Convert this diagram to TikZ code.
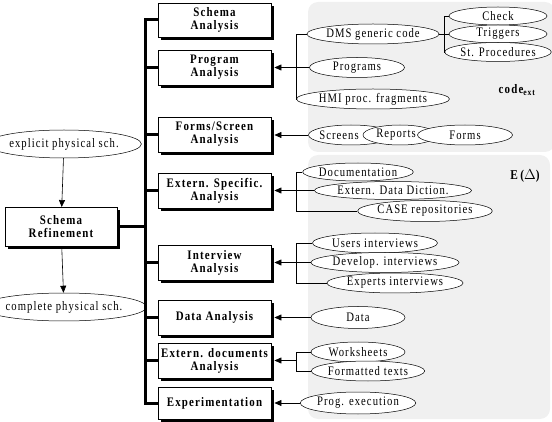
\documentclass[tikz,border=0pt]{standalone}
\usepackage{fontspec}
\setmainfont{Liberation Serif}
\newfontfamily\boxfont{Liberation Serif}[FakeStretch=0.84,LetterSpace=9,BoldFont={* Bold}]
\newfontfamily\ellfont{Liberation Serif}[FakeStretch=0.82,LetterSpace=8]
\usetikzlibrary{shapes.geometric,arrows.meta,shadows}
\definecolor{panel}{RGB}{240,240,240}
\begin{document}
\begin{tikzpicture}[x=1pt,y=-1pt,
  box/.style={draw,line width=0.9pt,fill=white,minimum width=113pt,minimum height=35pt,
    align=center,inner sep=1pt,font=\boxfont\fontsize{13}{13}\selectfont\bfseries,
    drop shadow={shadow xshift=3pt,shadow yshift=-3pt,fill=black,opacity=1}},
  ell/.style={draw,ellipse,fill=white,line width=0.5pt,inner sep=0pt,minimum height=20pt,
    font=\ellfont\fontsize{13}{13}\selectfont},
  lbl/.style={inner sep=0pt,font=\ellfont\fontsize{13}{13}\selectfont},
  bus/.style={line width=3pt},
  thin/.style={line width=0.6pt},
  arr/.style={line width=0.6pt,-{Triangle[length=7pt,width=6pt]}},
]
\useasboundingbox (0,0) rectangle (552,422);
% panels
\fill[panel,rounded corners=10pt] (308,2) rectangle (555,152);
\fill[panel,rounded corners=10pt] (308,155) rectangle (550,419);
\node[font=\boxfont\fontsize{13}{14}\selectfont\bfseries] (codeext) at (517,90) {code\textsubscript{ext}};
\node[font=\boxfont\fontsize{13.5}{14}\selectfont\bfseries] (edelta) at (525,176) {E\,($\Delta$)};

% left part
\node[ell,minimum width=125pt,minimum height=28pt] (expl) at (64,144) {explicit physical sch.};
\node[ell,minimum width=125pt,minimum height=28pt] (compl) at (64,307) {complete physical sch.};
\node[box,minimum width=112pt,minimum height=39pt] (refine) at (61,227) {Schema\\Refinement};
\draw[arr] (expl) -- (refine);
\draw[arr] (refine) -- (compl);

% analysis boxes
\node[box,minimum height=34pt] (sa) at (214.5,20) {Schema\\Analysis};
\node[box] (pa) at (214.5,67.5) {Program\\Analysis};
\node[box] (fa) at (214.5,134.5) {Forms/Screen\\Analysis};
\node[box] (ea) at (214.5,190.5) {Extern. Specific.\\Analysis};
\node[box] (ia) at (214.5,262.5) {Interview\\Analysis};
\node[box] (da) at (214.5,317.5) {Data Analysis};
\node[box] (xa) at (214.5,360.5) {Extern. documents\\Analysis};
\node[box,minimum height=32pt] (ex) at (214.5,403) {Experimentation};

% bus
\coordinate (bustop) at (145,20);
\coordinate (busbot) at (145,403);
\draw[bus] (145,18.5) -- (145,404.5);
\foreach \n in {sa,pa,fa,ea,ia,da,xa,ex} \draw[bus] (\n.west -| bustop) -- (\n.west);
\draw[bus] ([xshift=3pt]refine.east) -- (refine.east -| bustop);

% program analysis group
\node[ell,minimum width=127pt] (dms) at (373,34) {DMS generic code};
\node[ell,minimum width=95pt] (progs) at (357,67.5) {Programs};
\node[ell,minimum width=127pt] (hmi) at (373,99) {HMI proc. fragments};
\node[ell,minimum width=98pt,minimum height=18pt] (check) at (498,16) {Check};
\node[ell,minimum width=98pt,minimum height=18pt] (trig) at (498,34) {Triggers};
\node[ell,minimum width=98pt,minimum height=19pt] (stp) at (498,52) {St. Procedures};
\coordinate (bk1) at (296,0);
\coordinate (bk0) at (444,0);
\draw[thin] (dms.west) -- (dms.west -| bk1) -- (hmi.west -| bk1) -- (hmi.west);
\draw[arr] (progs.west) -- ([xshift=3pt]pa.east);
\draw[thin] (dms.east) -- (trig.west);
\draw[thin] (check.west) -- (check.west -| bk0) -- (stp.west -| bk0) -- (stp.west);

% forms / screens
\node[ell,minimum width=85pt] (scr) at (351,135) {};
\node[lbl] (scrt) at (339,135) {Screens};
\node[ell,minimum width=74pt] (rep) at (400,135) {};
\node[lbl] (rept) at (396,135) {Reports};
\node[ell,minimum width=95pt] (forms) at (465,135) {};
\node[lbl] (formst) at (465,135) {Forms};
\draw[arr] (scr.west) -- ([xshift=3pt]fa.east |- scr.west);

% extern specific
\node[ell,minimum width=95pt,minimum height=18pt] (doc) at (358,172) {Documentation};
\node[ell,minimum width=127pt,minimum height=18pt] (dict) at (393,190.5) {Extern. Data Diction.};
\node[ell,minimum width=125pt,minimum height=21pt] (case) at (425,211) {CASE repositories};
\draw[thin] (doc.west) -- (doc.west -| bk1) -- (case.west -| bk1) -- (case.west);
\draw[arr] (dict.west) -- ([xshift=3pt]ea.east);

% interviews
\node[ell,minimum width=125pt] (users) at (375,243) {Users interviews};
\node[ell,minimum width=125pt] (dev) at (385,262.5) {Develop. interviews};
\node[ell,minimum width=125pt] (exp) at (395,283) {Experts interviews};
\draw[thin] (users.west) -- (users.west -| bk1) -- (exp.west -| bk1) -- (exp.west);
\draw[arr] (dev.west) -- ([xshift=3pt]ia.east);

% data
\node[ell,minimum width=94pt,minimum height=22pt] (data) at (358,317.5) {Data};
\draw[arr] (data.west) -- ([xshift=3pt]da.east);

% extern documents
\node[ell,minimum width=94pt] (ws) at (358,352) {Worksheets};
\node[ell,minimum width=94pt] (ft) at (368,371) {Formatted texts};
\draw[thin] (ws.west) -- (ws.west -| bk1) -- (ft.west -| bk1) -- (ft.west);
\coordinate (xmid) at (296,360.5);
\draw[arr] (xmid) -- ([xshift=3pt]xa.east);

% experimentation
\node[ell,minimum width=94pt,minimum height=22pt] (pe) at (358,403) {Prog. execution};
\draw[arr] (pe.west) -- ([xshift=3pt]ex.east);
\end{tikzpicture}
\end{document}
